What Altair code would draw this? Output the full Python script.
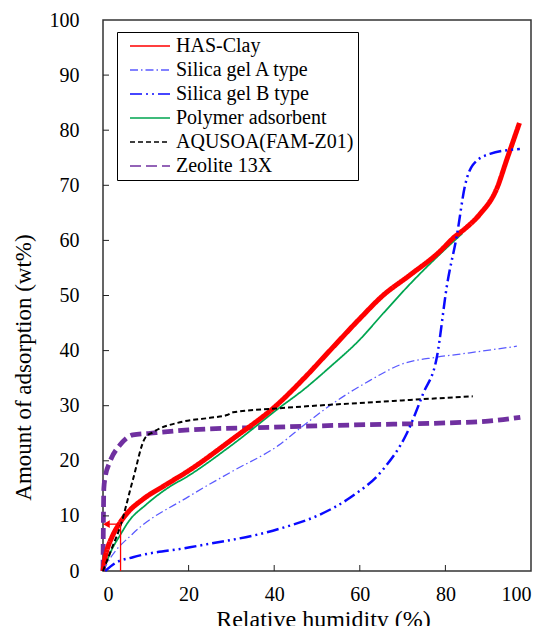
import altair as alt
import pandas as pd

series_names = ["HAS-Clay", "Silica gel A type", "Silica gel B type",
                "Polymer adsorbent", "AQUSOA(FAM-Z01)", "Zeolite 13X"]
colors = ["#ff0000", "#5a5aff", "#0a0aff", "#00a550", "#000000", "#7030a0"]
dashes = [[1, 0], [8, 3, 1.5, 3], [12, 4, 2, 4, 2, 4], [1, 0], [5, 3], [11, 5]]
# stroke width slots on an evenly spaced 1.25..5 scale (step 0.25)
width_slot = {"Silica gel A type": 0, "Polymer adsorbent": 2, "AQUSOA(FAM-Z01)": 3,
              "Silica gel B type": 5, "Zeolite 13X": 14, "HAS-Clay": 15}
width_range = [1.25, 5]
n_slots = 16

has_x = [0, 0.5, 1, 2, 4, 6, 9.3, 15, 20, 30, 41, 47, 53, 60, 65.4, 71.7, 78.7, 81.8, 85, 88, 92, 94.4, 97.3]
has_y = [0, 2.5, 4, 6, 8.8, 10.8, 13, 15.8, 18.2, 23.8, 30.4, 35, 40, 45.8, 50.0, 53.7, 58, 60.4, 62.4, 64.7, 69.4, 74.8, 81.3]

sga_x = [0, 1.6, 7, 20, 30, 41, 47, 53.7, 62.4, 70, 78, 85.7, 96.7]
sga_y = [0, 2.2, 6.8, 13.5, 18, 22.8, 26.5, 30.4, 34.6, 37.6, 38.8, 39.6, 40.8]

sgb_x = [0.5, 3, 7, 20.3, 41.4, 50, 57.7, 65.4, 71, 74.8, 78, 80.4, 82.7, 84.6, 86.4, 90.4, 97.4]
sgb_y = [0, 1.5, 2.5, 4.3, 7.7, 10, 13.3, 18.4, 25, 32.2, 38.8, 52, 61, 70, 73.7, 75.7, 76.6]

pol_x = [0, 1, 2, 4, 6, 10, 15, 20, 30, 41, 47, 53, 60, 65.4, 72, 79.4, 84]
pol_y = [0, 2, 3.8, 6.5, 9, 12, 15, 17.3, 22.8, 29.5, 33, 37, 42, 46.7, 52.3, 58, 61.3]

aqu_x = [0, 2, 4, 7, 9.8, 11.7, 18, 25, 29, 30.4, 40.6, 60, 86.4]
aqu_y = [0, 4, 8, 16.6, 24.1, 25.2, 27, 27.8, 28.3, 28.8, 29.5, 30.5, 31.7]

zeo_x = [0, 0.2, 0.5, 1.5, 4, 7, 11, 20, 40, 58, 81, 90, 97.5]
zeo_y = [0, 15, 17, 19.6, 22.9, 24.7, 25, 25.6, 26.1, 26.5, 26.9, 27.2, 27.9]

x_ticks = [0, 20, 40, 60, 80, 100]
y_ticks = [0, 10, 20, 30, 40, 50, 60, 70, 80, 90, 100]
inner_x_ticks = [20, 40, 60, 80]
inner_y_ticks = [10, 20, 30, 40, 50, 60, 70, 80, 90]

# red arrow annotation (segments and head)
ann_x = [4.1, 4.1]
ann_x2 = [4.1, 1.2]
ann_y = [0, 8.5]
ann_y2 = [8.5, 8.5]
head_x = [0.8]
head_y = [8.5]

series_data = {
    "HAS-Clay": (has_x, has_y),
    "Silica gel A type": (sga_x, sga_y),
    "Silica gel B type": (sgb_x, sgb_y),
    "Polymer adsorbent": (pol_x, pol_y),
    "AQUSOA(FAM-Z01)": (aqu_x, aqu_y),
    "Zeolite 13X": (zeo_x, zeo_y),
}
# drawing order (bottom to top)
draw_order = ["Zeolite 13X", "Polymer adsorbent", "HAS-Clay",
              "Silica gel A type", "AQUSOA(FAM-Z01)", "Silica gel B type"]

rows = []
for name in draw_order:
    xs, ys = series_data[name]
    for a, b in zip(xs, ys):
        rows.append({"series": name, "x": a, "y": b})
df = pd.DataFrame(rows)

width_domain = ["_slot%d" % i for i in range(n_slots)]
for name, slot in width_slot.items():
    width_domain[slot] = name

FONT = "Liberation Serif"
H = 551

xscale = alt.Scale(domain=[0, 100], nice=False)
yscale = alt.Scale(domain=[0, 100], nice=False)

lines = alt.Chart(df).mark_line(interpolate="monotone").encode(
    x=alt.X("x:Q", scale=xscale,
            axis=alt.Axis(values=x_ticks, title="Relative humidity  (%)",
                          labelPadding=13, titleX=220, titleY=55,
                          titleAlign="center", titleBaseline="alphabetic",
                          titleFontSize=24)),
    y=alt.Y("y:Q", scale=yscale,
            axis=alt.Axis(values=y_ticks, title="Amount of adsorption (wt%)",
                          labelPadding=24, titleX=-80, titleY=347,
                          titleAlign="center", titleBaseline="middle",
                          titleFontSize=23)),
    color=alt.Color("series:N", title=None,
                    scale=alt.Scale(domain=series_names, range=colors),
                    legend=alt.Legend(orient="none", legendX=14, legendY=12,
                                      values=series_names)),
    strokeDash=alt.StrokeDash("series:N", title=None,
                              scale=alt.Scale(domain=series_names, range=dashes),
                              legend=alt.Legend(values=series_names)),
    strokeWidth=alt.StrokeWidth("series:N", title=None,
                                scale=alt.Scale(type="point", domain=width_domain,
                                                range=width_range, padding=0),
                                legend=alt.Legend(values=[])),
)

xt = alt.Chart(pd.DataFrame({"x": inner_x_ticks})).mark_rule(color="#222", strokeWidth=1).encode(
    x="x:Q", y=alt.value(H), y2=alt.value(H - 6))
yt = alt.Chart(pd.DataFrame({"y": inner_y_ticks})).mark_rule(color="#222", strokeWidth=1).encode(
    y="y:Q", x=alt.value(0), x2=alt.value(6))

ann = alt.Chart(pd.DataFrame({"x": ann_x, "x2": ann_x2, "y": ann_y, "y2": ann_y2})).mark_rule(
    color="#ff0000", strokeWidth=1.3).encode(x="x:Q", x2="x2:Q", y="y:Q", y2="y2:Q")
head = alt.Chart(pd.DataFrame({"x": head_x, "y": head_y})).mark_point(
    shape="triangle-left", filled=True, color="#ff0000", size=60, opacity=1).encode(
    x="x:Q", y="y:Q")

chart = alt.layer(lines, xt, yt, ann, head).properties(
    width=428, height=H,
    autosize=alt.AutoSizeParams(type="none"),
    padding={"left": 95, "top": 12, "right": 6, "bottom": 55},
).configure(
    font=FONT
).configure_view(
    stroke="#333333", strokeWidth=1.5
).configure_axis(
    labelFont=FONT, labelFontSize=20, labelColor="black",
    titleFont=FONT, titleFontWeight="normal", titleColor="black",
    domain=False, ticks=False, grid=False,
).configure_legend(
    symbolType="stroke", symbolSize=1600, clipHeight=20,
    labelFont=FONT, labelFontSize=20, labelColor="black",
    strokeColor="black", fillColor="white", padding=4, rowPadding=4,
    symbolOffset=8, labelOffset=5, labelLimit=400,
)

chart.save("out.html", embed_options={"renderer": "svg", "actions": False})
